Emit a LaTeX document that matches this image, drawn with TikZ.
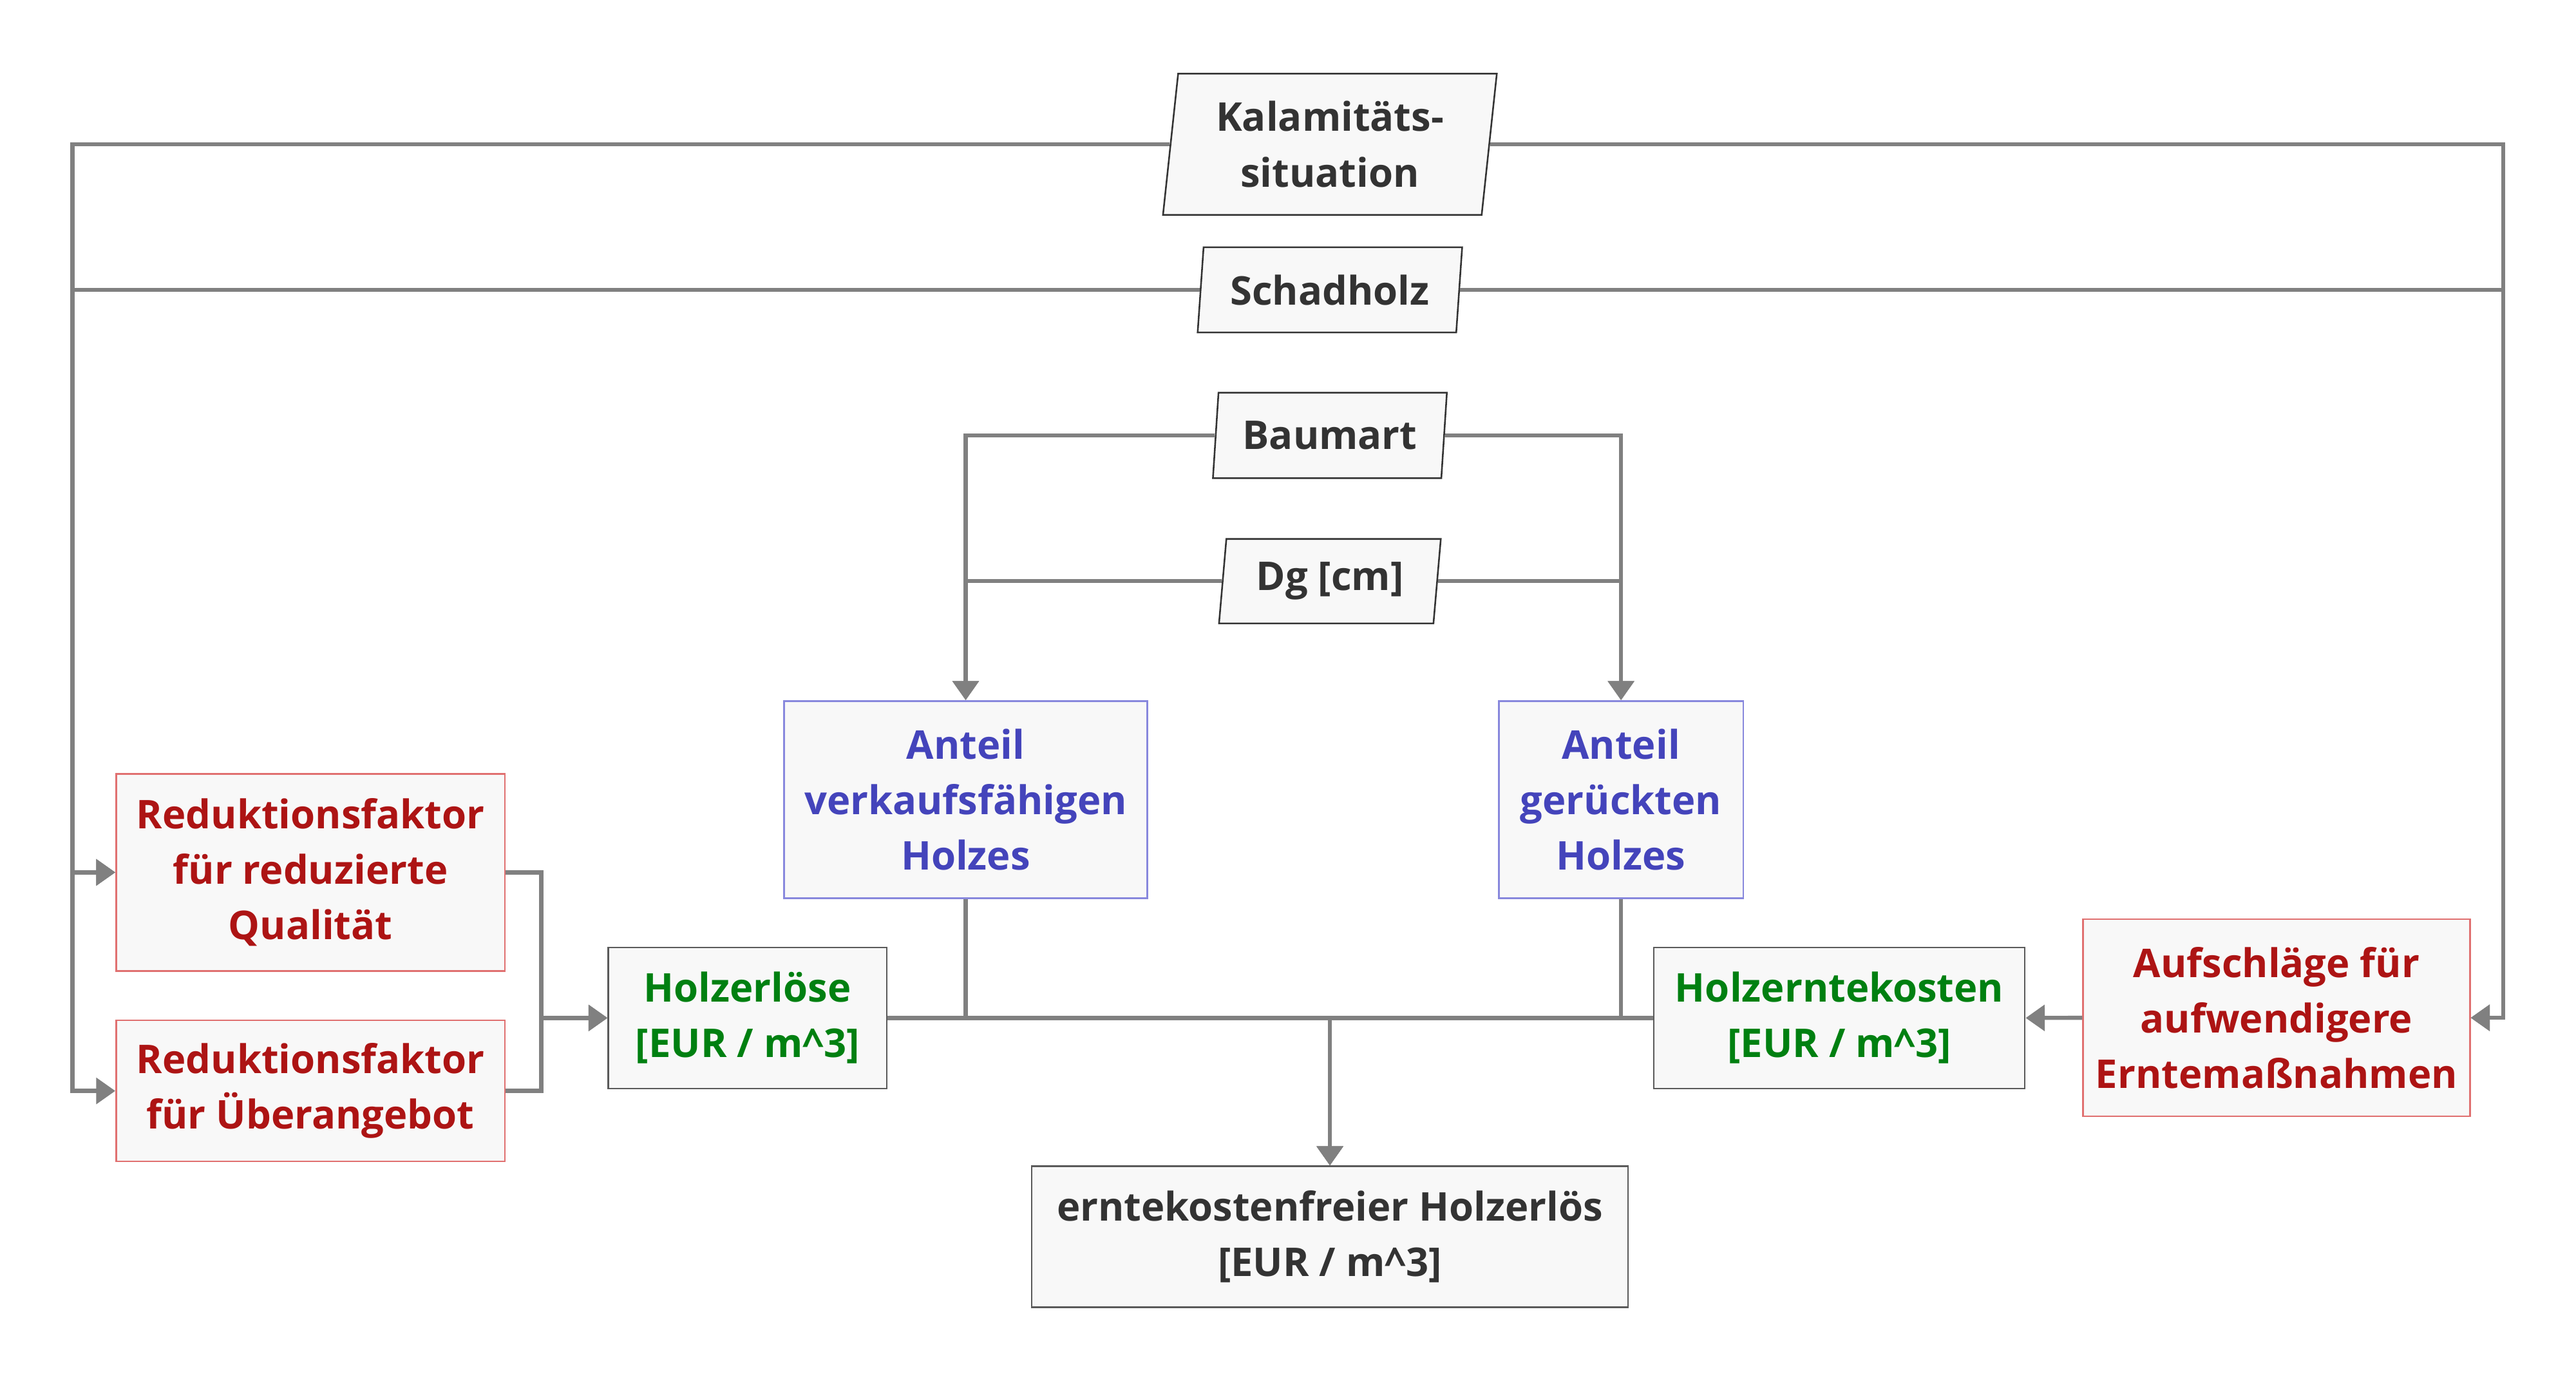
\documentclass[tikz,border=0pt]{standalone}
\usepackage{fontspec}
\setmainfont{Open Sans}
\usetikzlibrary{arrows.meta,shapes.geometric,calc}
\definecolor{txtdark}{RGB}{51,51,51}
\definecolor{txtred}{RGB}{173,20,20}
\definecolor{txtblue}{RGB}{68,68,187}
\definecolor{txtgreen}{RGB}{0,128,17}
\definecolor{bdred}{RGB}{224,112,112}
\definecolor{bdblue}{RGB}{136,136,221}
\definecolor{bdgrey}{RGB}{90,90,90}
\definecolor{boxfill}{RGB}{248,248,248}
\definecolor{linegrey}{RGB}{128,128,128}
\tikzset{
  base/.style={font=\fontsize{12.05}{16.9}\selectfont\bfseries, align=center, inner sep=0pt, fill=boxfill, line width=0.5pt},
  para/.style={base, draw=txtdark, text=txtdark, shape=trapezium, trapezium stretches body,
    trapezium left angle=79, trapezium right angle=101},
  redbox/.style={base, draw=bdred, text=txtred, rectangle},
  bluebox/.style={base, draw=bdblue, text=txtblue, rectangle},
  greenbox/.style={base, draw=bdgrey, text=txtgreen, rectangle},
  darkbox/.style={base, draw=bdgrey, text=txtdark, rectangle},
  conn/.style={draw=linegrey, line width=1.25pt},
  arr/.style={conn, -{Triangle[length=5.8pt,width=7.8pt]}},
}
\begin{document}
\begin{tikzpicture}[x=0.5pt,y=-0.5pt]
\useasboundingbox (0,0) rectangle (1568,840.4);

% parallelogram inputs
\node[para, trapezium left angle=80, trapezium right angle=100,
      minimum width=101.6pt, minimum height=43pt] (kal) at (809.5,87.8) {Kalamitäts-\\situation};
\node[para, minimum width=80.5pt, minimum height=25.9pt] (schad) at (809.5,176.4) {Schadholz};
\node[para, minimum width=71.2pt, minimum height=26pt] (baum) at (809.5,265) {Baumart};
\node[para, minimum width=67.5pt, minimum height=25.7pt] (dg) at (809.5,353.7) {Dg [cm]};

% boxes
\node[bluebox, minimum width=110.5pt, minimum height=60pt] (av) at (587.8,486.6) {Anteil\\verkaufsfähigen\\Holzes};
\node[bluebox, minimum width=74.4pt, minimum height=60pt] (ag) at (986.7,486.6) {Anteil\\gerückten\\Holzes};
\node[redbox, minimum width=118.3pt, minimum height=60pt] (rq) at (189,530.9) {Reduktionsfaktor\\für reduzierte\\Qualität};
\node[redbox, minimum width=118.3pt, minimum height=42.9pt] (ru) at (189,663.9) {Reduktionsfaktor\\für Überangebot};
\node[greenbox, minimum width=84.7pt, minimum height=42.9pt] (he) at (455,619.5) {Holzerlöse\\{[EUR / m\textasciicircum{}3]}};
\node[greenbox, minimum width=112.9pt, minimum height=42.9pt] (hk) at (1119.6,619.5) {Holzerntekosten\\{[EUR / m\textasciicircum{}3]}};
\node[redbox, minimum width=117.7pt, minimum height=60pt] (auf) at (1385.7,619.4) {Aufschläge für\\aufwendigere\\Erntemaßnahmen};
\node[darkbox, minimum width=181.5pt, minimum height=42.9pt] (ek) at (809.5,752.6) {erntekostenfreier Holzerlös\\{[EUR / m\textasciicircum{}3]}};

% helper coordinates
\coordinate (Lq) at ($(rq.west)+(-26.1,0)$);
\coordinate (Lu) at ($(ru.west)+(-26.1,0)$);
\coordinate (R) at ($(auf.east)+(19.7,0)$);
\coordinate (P) at ($(he.west)+(-40.3,0)$);
\coordinate (J) at (ek.north |- he.east);

% left side
\draw[arr] (kal.west) -| (Lq) -- (rq.west);
\draw[arr] (kal.west) -| (Lu) -- (ru.west);
\draw[arr] (schad.west) -| (Lq) -- (rq.west);
% right side
\draw[arr] (kal.east) -| (R) -- (auf.east);
\draw[arr] (schad.east) -| (R) -- (auf.east);
% Baumart / Dg
\draw[arr] (baum.west) -| (av.north);
\draw[arr] (baum.east) -| (ag.north);
\draw[arr] (dg.west) -| (av.north);
\draw[arr] (dg.east) -| (ag.north);
% reductions to Holzerlöse
\draw[arr] (rq.east) -| (P) -- (he.west);
\draw[arr] (ru.east) -| (P) -- (he.west);
% to bottom
\draw[arr] (he.east) -| (ek.north);
\draw[arr] (av.south) |- (J) -- (ek.north);
\draw[arr] (ag.south) |- (J) -- (ek.north);
\draw[arr] (hk.west) -| (ek.north);
\draw[arr] (auf.west) -- (hk.east);
\end{tikzpicture}
\end{document}
